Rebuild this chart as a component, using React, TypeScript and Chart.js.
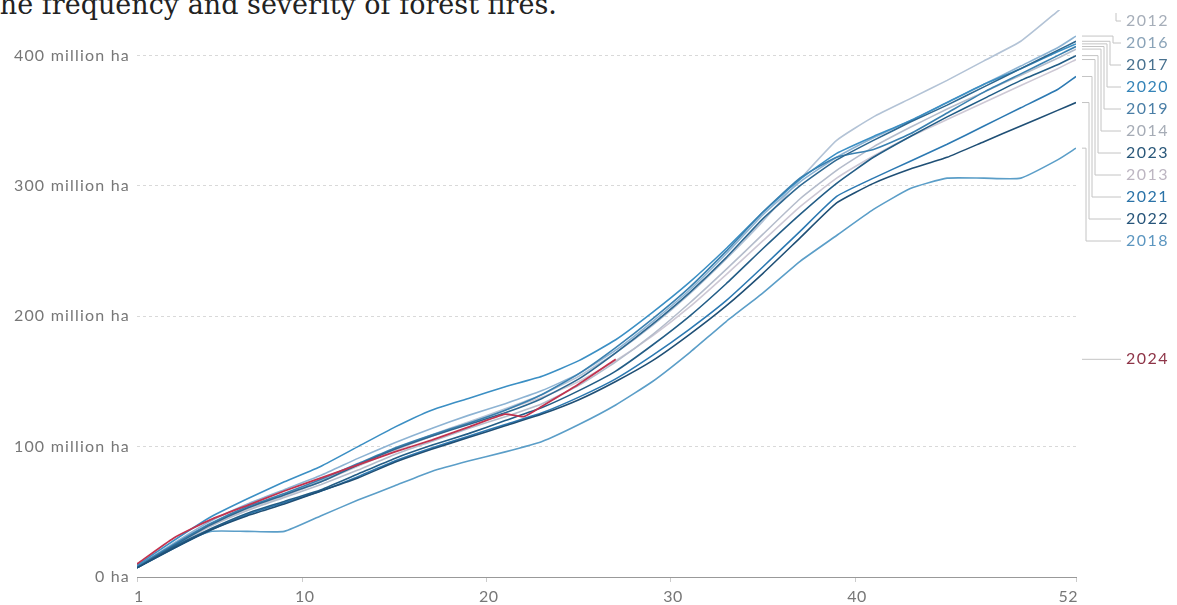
import React, { useEffect, useRef } from "react";
import { Chart, registerables } from "chart.js";

Chart.register(...registerables);

// ---- data ----
const weeks = [1, 3, 5, 7, 9, 11, 13, 15, 17, 19, 21, 23, 25, 27, 29, 31, 33, 35, 37, 39, 41, 43, 45, 47, 49, 51, 52];
const weeks2024 = [1, 3, 5, 7, 9, 11, 13, 15, 17, 19, 21, 22, 23, 25, 27];

const y2012 = [8, 25, 41, 53, 63, 74, 86, 98, 109, 119, 129, 140, 154, 172, 193, 217, 244, 273, 305, 335, 353, 367, 381, 396, 411, 434, 446];
const y2013 = [8, 25, 40, 52, 62, 73, 85, 97, 108, 118, 128, 138, 150, 166, 185, 207, 232, 258, 284, 306, 323, 338, 351, 364, 377, 390, 397];
const y2014 = [8, 24, 39, 51, 61, 71, 82, 94, 104, 114, 123, 133, 147, 165, 186, 210, 236, 263, 290, 312, 330, 345, 359, 372, 385, 398, 405];
const y2016 = [8, 26, 43, 56, 67, 78, 91, 103, 114, 124, 133, 143, 156, 174, 196, 220, 248, 278, 303, 322, 337, 350, 364, 378, 392, 406, 415];
const y2017 = [7, 24, 40, 53, 63, 73, 86, 98, 108, 117, 126, 137, 152, 172, 194, 218, 245, 275, 300, 320, 335, 349, 362, 376, 390, 404, 411];
const y2018 = [8, 24, 35, 35, 35, 47, 59, 70, 81, 89, 96, 104, 117, 132, 150, 172, 196, 218, 242, 262, 282, 298, 306, 306, 306, 320, 329];
const y2019 = [8, 25, 41, 54, 64, 75, 87, 99, 109, 118, 128, 140, 156, 176, 198, 222, 250, 280, 306, 322, 328, 340, 356, 372, 386, 400, 407];
const y2020 = [9, 28, 46, 60, 73, 85, 100, 115, 128, 137, 146, 154, 166, 182, 203, 226, 252, 280, 305, 325, 338, 350, 364, 378, 390, 403, 409];
const y2021 = [7, 22, 36, 48, 57, 66, 77, 89, 99, 108, 117, 126, 138, 152, 170, 190, 212, 238, 265, 292, 306, 319, 332, 346, 360, 374, 384];
const y2022 = [7, 22, 36, 47, 56, 66, 76, 88, 98, 107, 116, 125, 136, 150, 166, 186, 208, 233, 260, 287, 302, 313, 322, 334, 346, 358, 364];
const y2023 = [7, 23, 37, 49, 58, 67, 79, 91, 101, 110, 120, 130, 143, 158, 178, 200, 225, 252, 278, 302, 322, 338, 353, 367, 381, 393, 400];
const y2024 = [10, 30, 44, 55, 66, 76, 86, 96, 105, 115, 125, 123, 131, 148, 167];

const xTickValues = [1, 10, 20, 30, 40, 52];
const yTickValues = [0, 100, 200, 300, 400];

// ---- styles ----
const years = ["2024", "2022", "2023", "2021", "2017", "2019", "2020", "2018", "2016", "2012", "2014", "2013"];
const seriesWeeks = [weeks2024, weeks, weeks, weeks, weeks, weeks, weeks, weeks, weeks, weeks, weeks, weeks];
const seriesValues = [y2024, y2022, y2023, y2021, y2017, y2019, y2020, y2018, y2016, y2012, y2014, y2013];
const lineColors = ["#c2334f", "#1f4f75", "#235d86", "#2c79b2", "#2d6790", "#3a80b0", "#3b8fc4", "#5b9ec8", "#8db3d3", "#b3c3d6", "#b4bccb", "#cdc8d4"];
const labelColors = ["#8e3447", "#27557a", "#2a587a", "#2b73a8", "#48718f", "#4a7ea6", "#3584b8", "#5c96c0", "#8aa3b8", "#a6aeb9", "#a6acb6", "#bdb6c2"];

const endLabelPlugin = {
  id: "endLabels",
  afterDraw(chart: any) {
    const { ctx, chartArea, scales } = chart;
    ctx.save();
    // x tick labels
    ctx.letterSpacing = "0.5px";
    ctx.font = "16px Lato";
    ctx.fillStyle = "#777";
    ctx.textBaseline = "middle";
    xTickValues.forEach((v, i) => {
      const px = scales.x.getPixelForValue(v);
      const isLast = i === xTickValues.length - 1;
      ctx.textAlign = isLast ? "right" : "center";
      ctx.fillText(String(v), px + 2, chartArea.bottom + 20);
    });
    // end labels
    const items = chart.data.datasets
      .map((ds: any, i: number) => {
        const pts = ds.data;
        const last = pts[pts.length - 1];
        return { label: ds.label, value: last.y, yEnd: scales.y.getPixelForValue(last.y), color: labelColors[i] };
      })
      .sort((a: any, b: any) => b.value - a.value);
    const lineStart = chartArea.right + 6;
    const textX = chartArea.right + 50;
    const lineEnd = textX - 5;
    let prev = -Infinity;
    ctx.letterSpacing = "1.5px";
    ctx.font = "16px Lato";
    ctx.textAlign = "left";
    items.forEach((it: any, k: number) => {
      const ly = Math.max(it.yEnd, chartArea.top + 11, prev + 22);
      prev = ly;
      const elbow = lineEnd - 5 - k * 3;
      ctx.strokeStyle = "#c4c4c4";
      ctx.lineWidth = 1;
      ctx.beginPath();
      if (it.yEnd < chartArea.top) {
        ctx.moveTo(elbow, chartArea.top + 3);
      } else {
        ctx.moveTo(lineStart, it.yEnd);
        ctx.lineTo(elbow, it.yEnd);
      }
      ctx.lineTo(elbow, ly);
      ctx.lineTo(lineEnd, ly);
      ctx.stroke();
      ctx.fillStyle = it.color;
      ctx.fillText(it.label, textX, ly);
    });
    ctx.restore();
  },
};

export default function App() {
  const ref = useRef<HTMLCanvasElement>(null);
  useEffect(() => {
    const datasets = years.map((yr, i) => ({
      label: yr,
      data: seriesValues[i].map((v, j) => ({ x: seriesWeeks[i][j], y: v })),
      borderColor: lineColors[i],
      backgroundColor: lineColors[i],
      borderWidth: i === 0 ? 1.8 : 1.6,
      pointRadius: 0,
      tension: 0.15,
      fill: false,
      order: i,
    }));
    const chart = new Chart(ref.current!, {
      type: "line",
      data: { datasets },
      options: {
        animation: false,
        responsive: false,
        layout: { padding: { left: 0, right: 101, top: 10, bottom: 0 } },
        plugins: { legend: { display: false }, tooltip: { enabled: false } },
        scales: {
          x: {
            type: "linear",
            min: 1,
            max: 52,
            afterBuildTicks: (s: any) => {
              s.ticks = xTickValues.map((v) => ({ value: v }));
            },
            afterFit: (s: any) => {
              s.height = 28;
              s.paddingLeft = 0;
              s.paddingRight = 0;
            },
            ticks: { display: false },
            grid: { drawOnChartArea: false, drawTicks: true, tickLength: 5, color: "#cccccc" },
            border: { color: "#999", width: 1 },
          },
          y: {
            min: 0,
            max: 435,
            afterBuildTicks: (s: any) => {
              s.ticks = yTickValues.map((v) => ({ value: v }));
            },
            afterFit: (s: any) => {
              s.width = 137;
              s.paddingTop = 0;
              s.paddingBottom = 0;
            },
            ticks: {
              color: "#777",
              font: { family: "Lato", size: 16 },
              padding: 7,
              callback: (v: any) => (v === 0 ? "0 ha" : `${v} million ha`),
            },
            grid: {
              drawTicks: false,
              color: (c: any) => (c.tick && c.tick.value === 0 ? "rgba(0,0,0,0)" : "#d9d9d9"),
              lineWidth: 1,
            },
            border: { display: false, dash: [3, 3] },
          },
        },
      },
      plugins: [
        {
          id: "spacing",
          beforeDraw(chart: any) {
            chart.ctx.letterSpacing = "1.2px";
          },
        },
        endLabelPlugin,
      ],
    } as any);
    return () => chart.destroy();
  }, []);
  return (
    <div style={{ position: "fixed", left: 0, top: 0, width: 1177, height: 605, overflow: "hidden", background: "#fff" }}>
      <div
        style={{
          position: "absolute",
          left: -11,
          top: -9,
          fontFamily: '"DejaVu Serif", serif',
          fontSize: 27,
          lineHeight: "27px",
          color: "#222",
          whiteSpace: "nowrap",
        }}
      >
        the frequency and severity of forest fires.
      </div>
      <canvas ref={ref} width={1177} height={605} style={{ position: "absolute", left: 0, top: 0, width: 1177, height: 605 }} />
    </div>
  );
}
